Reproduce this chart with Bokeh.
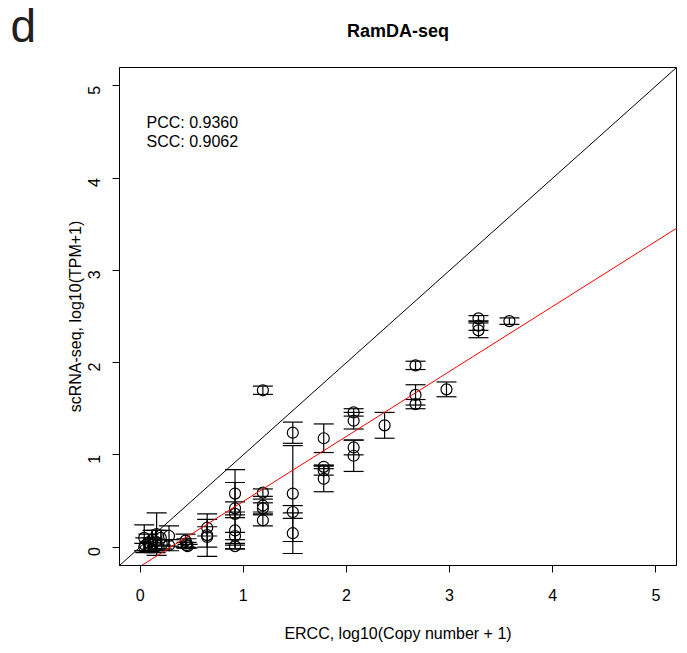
import math
from bokeh.plotting import figure
from bokeh.models import ColumnDataSource, Whisker, TeeHead, Slope, Label, FixedTicker, Title
from bokeh.embed import file_html
from bokeh.resources import INLINE

# ERCC spike-ins: x = log10(copy number + 1), y = mean log10(TPM+1), sd = error bar half-length
ercc_x = [3.58,
          3.28, 3.28, 3.28,
          2.97,
          2.67, 2.67, 2.67,
          2.37,
          2.07, 2.07, 2.07, 2.07,
          1.78, 1.78, 1.78, 1.78,
          1.48, 1.48, 1.48, 1.48,
          1.19, 1.19, 1.19, 1.19, 1.19,
          0.92, 0.92, 0.92, 0.92, 0.92, 0.92,
          0.65, 0.65, 0.65,
          0.44, 0.45, 0.45, 0.46,
          0.28, 0.28,
          0.20, 0.21,
          0.16, 0.15, 0.16,
          0.12, 0.12,
          0.08, 0.09,
          0.04, 0.05, 0.04]
tpm_y = [2.45,
         2.48, 2.40, 2.35,
         1.71,
         1.97, 1.65, 1.55,
         1.32,
         1.46, 1.37, 1.08, 0.99,
         1.18, 0.87, 0.83, 0.74,
         1.24, 0.58, 0.38, 0.15,
         1.70, 0.59, 0.45, 0.42, 0.29,
         0.58, 0.42, 0.36, 0.18, 0.12, 0.01,
         0.21, 0.13, 0.11,
         0.07, 0.04, 0.02, 0.01,
         0.12, 0.02,
         0.10, 0.03,
         0.14, 0.06, 0.02,
         0.08, 0.03,
         0.05, 0.00,
         0.10, 0.02, 0.00]
tpm_sd = [0.035,
          0.03, 0.05, 0.08,
          0.08,
          0.045, 0.11, 0.05,
          0.14,
          0.04, 0.09, 0.08, 0.17,
          0.155, 0.02, 0.05, 0.14,
          0.115, 0.52, 0.07, 0.22,
          0.045, 0.04, 0.07, 0.06, 0.06,
          0.26, 0.07, 0.34, 0.20, 0.04, 0.03,
          0.09, 0.23, 0.11,
          0.07, 0.05, 0.03, 0.02,
          0.11, 0.06,
          0.08, 0.05,
          0.23, 0.12, 0.06,
          0.10, 0.07,
          0.09, 0.05,
          0.14, 0.08, 0.04]

fit_slope = 0.705
fit_intercept = -0.21
pcc_text = "PCC: 0.9360"
scc_text = "SCC: 0.9062"
x_ticks = [0, 1, 2, 3, 4, 5]
y_ticks = [0, 1, 2, 3, 4, 5]

FONT = "Liberation Sans"

src = ColumnDataSource(dict(
    x=ercc_x, y=tpm_y,
    lower=[m - s for m, s in zip(tpm_y, tpm_sd)],
    upper=[m + s for m, s in zip(tpm_y, tpm_sd)],
))

p = figure(frame_width=557, frame_height=498,
           x_range=(-0.2, 5.2), y_range=(-0.2, 5.2),
           output_backend="svg", toolbar_location=None,
           min_border_left=119, min_border_right=8,
           min_border_top=67, min_border_bottom=80)
p.grid.visible = False
p.outline_line_color = "black"
p.outline_line_width = 1
p.background_fill_color = "white"
p.border_fill_color = "white"

for ax in (p.xaxis[0], p.yaxis[0]):
    ax.major_tick_out = 7
    ax.major_tick_in = 0
    ax.minor_tick_line_color = None
    ax.axis_line_color = "black"
    ax.major_tick_line_color = "black"
    ax.major_label_text_font = FONT
    ax.major_label_text_font_size = "16px"
    ax.major_label_text_color = "black"
    ax.axis_label_text_font = FONT
    ax.axis_label_text_font_size = "16px"
    ax.axis_label_text_font_style = "normal"
    ax.axis_label_text_color = "black"

p.xaxis.ticker = FixedTicker(ticks=x_ticks)
p.yaxis.ticker = FixedTicker(ticks=y_ticks)
p.xaxis.axis_label = "ERCC, log10(Copy number + 1)"
p.yaxis.axis_label = "scRNA-seq, log10(TPM+1)"
p.xaxis.major_label_standoff = 16
p.xaxis.axis_label_standoff = 21
p.yaxis.major_label_standoff = 18
p.yaxis.axis_label_standoff = -4
p.yaxis.major_label_orientation = math.pi / 2

# titles (side-panel annotations, not clipped); negative standoff keeps their
# layout boxes empty so the frame stays where the reference has it
p.title = Title(text="RamDA-seq", align="center", vertical_align="top",
                text_font=FONT, text_font_size="18px", text_font_style="bold",
                text_color="black", standoff=-94)
p.add_layout(Title(text="d", align="left", vertical_align="top", offset=-109,
                   text_font=FONT, text_font_size="46px", text_font_style="normal",
                   text_color="#231f20", standoff=-135), "above")

# identity line and regression line
p.add_layout(Slope(gradient=1, y_intercept=0, line_color="black", line_width=1))
p.add_layout(Slope(gradient=fit_slope, y_intercept=fit_intercept, line_color="red", line_width=1))

# error bars
w = Whisker(source=src, base="x", lower="lower", upper="upper",
            line_color="black", line_width=1.2,
            lower_head=TeeHead(size=20, line_color="black", line_width=1.2),
            upper_head=TeeHead(size=20, line_color="black", line_width=1.2))
p.add_layout(w)

p.scatter("x", "y", source=src, marker="circle", size=11,
          fill_color=None, line_color="black", line_width=1.2)

# correlation texts
p.add_layout(Label(x=0.062, y=4.606, text=pcc_text, text_font=FONT,
                   text_font_size="16px", text_color="black", text_baseline="alphabetic"))
p.add_layout(Label(x=0.062, y=4.396, text=scc_text, text_font=FONT,
                   text_font_size="16px", text_color="black", text_baseline="alphabetic"))

open("out.html", "w").write(file_html(p, INLINE))
